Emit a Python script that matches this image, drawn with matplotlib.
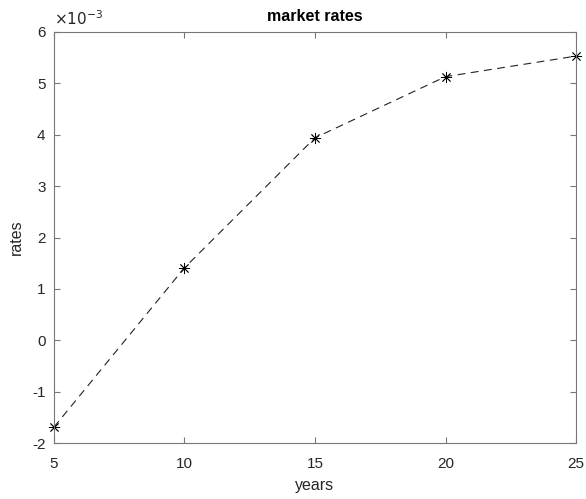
import matplotlib
matplotlib.use("Agg")
import matplotlib.pyplot as plt

plt.rcParams['font.family'] = ['Liberation Sans', 'DejaVu Sans']
plt.rcParams['axes.unicode_minus'] = False

# data (rates in units of 1e-3)
years = [5, 10, 15, 20, 25]
rates = [-1.69, 1.41, 3.94, 5.13, 5.53]
yticks = [-2, -1, 0, 1, 2, 3, 4, 5, 6]
xticks = [5, 10, 15, 20, 25]

fig = plt.figure(figsize=(5.86, 4.99), dpi=100)
ax = fig.add_axes([0.092, 0.112, 0.891, 0.824])

ax.plot(years, rates, linestyle=(0, (7, 5)), color='#222222', linewidth=0.8)
# matlab style asterisk marker
ax.plot(years, rates, linestyle='none', color='black', marker=(8, 2, 0),
        markersize=8, markeredgewidth=0.6, clip_on=False)

ax.set_xlim(5, 25)
ax.set_ylim(-2, 6)
ax.set_xticks(xticks)
ax.set_yticks(yticks)

axcol = '#777777'
for s in ax.spines.values():
    s.set_color(axcol)
    s.set_linewidth(0.8)
ax.tick_params(direction='in', top=True, right=True, length=4, width=0.8,
               color=axcol, labelsize=11, labelcolor='#262626')
ax.tick_params(axis='x', pad=10)
ax.tick_params(axis='y', pad=6)

ax.set_xlabel('years', fontsize=11.5, color='#262626', labelpad=5)
ax.set_ylabel('rates', fontsize=11.5, color='#262626', labelpad=6)
ax.set_title('market rates', fontsize=11.5, fontweight='bold', pad=8)
ax.text(0.0, 1.01, r'$\times 10^{-3}$', transform=ax.transAxes,
        fontsize=11, color='#262626', ha='left', va='bottom')

fig.savefig('out.png', dpi=100)
